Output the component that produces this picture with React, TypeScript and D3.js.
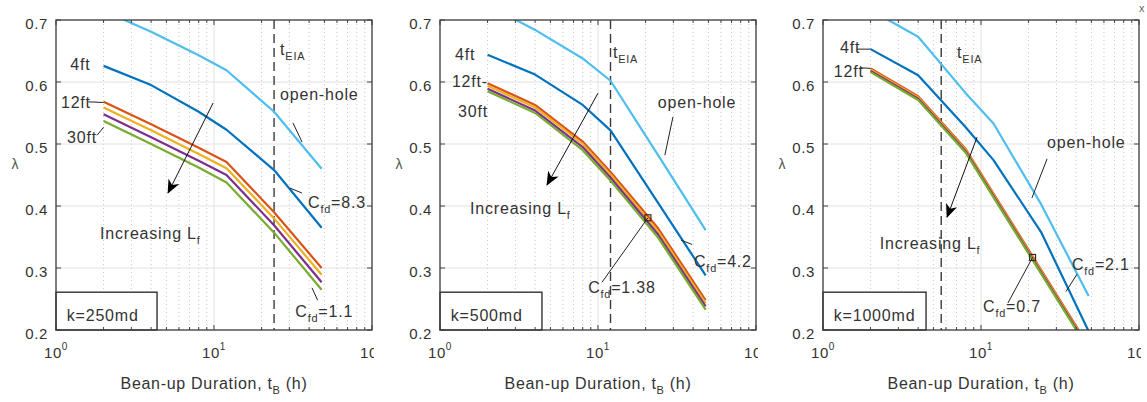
import React from "react";
import * as d3 from "d3";

// Bean-up durations (h) at which lambda was evaluated
const TIMES = [2, 4, 8, 12, 24, 48];

// Series order follows MATLAB's default colour order
const SERIES_NAMES = ["4ft", "12ft", "18ft", "24ft", "30ft", "open-hole"];
const SERIES_COLORS = ["#0072bd", "#d95319", "#edb120", "#7e2f8e", "#77ac30", "#4dbeee"];

// k = 250 md
const K250_4FT = [0.626, 0.595, 0.552, 0.523, 0.458, 0.365];
const K250_12FT = [0.568, 0.532, 0.494, 0.471, 0.39, 0.3];
const K250_18FT = [0.559, 0.522, 0.484, 0.461, 0.38, 0.289];
const K250_24FT = [0.548, 0.511, 0.473, 0.45, 0.369, 0.277];
const K250_30FT = [0.537, 0.5, 0.462, 0.438, 0.357, 0.265];
const K250_OPEN = [0.715, 0.681, 0.643, 0.619, 0.552, 0.46];

// k = 500 md
const K500_4FT = [0.644, 0.612, 0.563, 0.522, 0.405, 0.288];
const K500_12FT = [0.598, 0.563, 0.504, 0.455, 0.364, 0.248];
const K500_18FT = [0.594, 0.559, 0.5, 0.451, 0.359, 0.243];
const K500_24FT = [0.589, 0.554, 0.495, 0.446, 0.354, 0.238];
const K500_30FT = [0.585, 0.55, 0.49, 0.441, 0.349, 0.233];
const K500_OPEN = [0.724, 0.684, 0.638, 0.602, 0.482, 0.361];

// k = 1000 md
const K1000_4FT = [0.653, 0.611, 0.527, 0.474, 0.358, 0.198];
const K1000_12FT = [0.622, 0.577, 0.492, 0.42, 0.297, 0.174];
const K1000_18FT = [0.62, 0.575, 0.49, 0.418, 0.295, 0.172];
const K1000_24FT = [0.618, 0.573, 0.488, 0.416, 0.293, 0.17];
const K1000_30FT = [0.616, 0.571, 0.486, 0.414, 0.291, 0.168];
const K1000_OPEN = [0.716, 0.673, 0.582, 0.533, 0.403, 0.255];

// Times of end of infinite-acting period per permeability
const T_EIA = [24, 12, 5.6];
const K_LABELS = ["k=250md", "k=500md", "k=1000md"];

// Axis ticks
const Y_TICKS = [0.2, 0.3, 0.4, 0.5, 0.6, 0.7];
const X_DECADES = [1, 10, 100];
const X_DECADE_EXP = ["0", "1", "2"];
const X_MINOR = [2, 3, 4, 5, 6, 7, 8, 9, 20, 30, 40, 50, 60, 70, 80, 90];

type Part = [string, "n" | "sub"];
type Label = { t: number; v: number; parts: Part[] };
type Pt = [number, number];

const cfd = (val: string): Part[] => [["C", "n"], ["fd", "sub"], ["=" + val, "n"]];
const tEIA: Part[] = [["t", "n"], ["EIA", "sub"]];
const incLf: Part[] = [["Increasing L", "n"], ["f", "sub"]];

const PANELS = [
  {
    series: [K250_4FT, K250_12FT, K250_18FT, K250_24FT, K250_30FT, K250_OPEN],
    tEIA: T_EIA[0],
    k: K_LABELS[0],
    kBoxT: 4.36,
    labels: [
      { t: 1.23, v: 0.619, parts: [["4ft", "n"]] },
      { t: 1.075, v: 0.558, parts: [["12ft", "n"]] },
      { t: 1.174, v: 0.502, parts: [["30ft", "n"]] },
      { t: 26.2, v: 0.644, parts: tEIA },
      { t: 26.2, v: 0.571, parts: [["open-hole", "n"]] },
      { t: 39.4, v: 0.397, parts: cfd("8.3") },
      { t: 1.9, v: 0.347, parts: incLf },
      { t: 32.7, v: 0.2215, parts: cfd("1.1") },
    ] as Label[],
    leaders: [
      [[1.6, 0.568], [2, 0.567]],
      [[1.818, 0.514], [2, 0.527]],
      [[31.6, 0.534], [36.1, 0.503]],
      [[30.2, 0.429], [36, 0.421]],
      [[41.7, 0.268], [45.3, 0.248]],
    ] as Pt[][],
    arrow: [[9.86, 0.566], [5.12, 0.421]] as Pt[],
    markers: [] as Pt[],
  },
  {
    series: [K500_4FT, K500_12FT, K500_18FT, K500_24FT, K500_30FT, K500_OPEN],
    tEIA: T_EIA[1],
    k: K_LABELS[1],
    kBoxT: 4.42,
    labels: [
      { t: 1.245, v: 0.6355, parts: [["4ft", "n"]] },
      { t: 1.19, v: 0.592, parts: [["12ft-", "n"]] },
      { t: 1.3, v: 0.5435, parts: [["30ft", "n"]] },
      { t: 12.43, v: 0.639, parts: tEIA },
      { t: 23.9, v: 0.558, parts: [["open-hole", "n"]] },
      { t: 1.55, v: 0.387, parts: incLf },
      { t: 8.66, v: 0.26, parts: cfd("1.38") },
      { t: 40.5, v: 0.302, parts: cfd("4.2") },
    ] as Label[],
    leaders: [
      [[29.8, 0.5435], [26.5, 0.482]],
      [[20.7, 0.381], [10.6, 0.277]],
      [[33.5, 0.345], [39.4, 0.338]],
    ] as Pt[][],
    arrow: [[10, 0.582], [4.76, 0.434]] as Pt[],
    markers: [[20.7, 0.381]] as Pt[],
  },
  {
    series: [K1000_4FT, K1000_12FT, K1000_18FT, K1000_24FT, K1000_30FT, K1000_OPEN],
    tEIA: T_EIA[2],
    k: K_LABELS[2],
    kBoxT: 4.49,
    labels: [
      { t: 1.28, v: 0.647, parts: [["4ft", "n"]] },
      { t: 1.17, v: 0.608, parts: [["12ft", "n"]] },
      { t: 7.06, v: 0.639, parts: tEIA },
      { t: 26.2, v: 0.4935, parts: [["open-hole", "n"]] },
      { t: 2.29, v: 0.3306, parts: incLf },
      { t: 37.6, v: 0.297, parts: cfd("2.1") },
      { t: 10.3, v: 0.2295, parts: cfd("0.7") },
    ] as Label[],
    leaders: [
      [[1.64, 0.653], [2, 0.653]],
      [[1.71, 0.623], [2, 0.622]],
      [[26.2, 0.476], [21.0, 0.413]],
      [[40.5, 0.29], [34.5, 0.262]],
      [[21.2, 0.317], [14.8, 0.2435]],
    ] as Pt[][],
    arrow: [[9.44, 0.511], [6.1, 0.382]] as Pt[],
    markers: [[21.2, 0.317]] as Pt[],
  },
];

// Layout
const W = 1147;
const H = 402;
const PANEL_LEFTS = [56, 440, 823];
const PANEL_W = 316;
const TOP = 20;
const BOTTOM = 330;
const FONT = "'Liberation Sans', Arial, Helvetica, sans-serif";
const TEXT = "#333333";
const AXIS = "#404040";

function Rich({ x, y, parts, size = 16 }: { x: number; y: number; parts: Part[]; size?: number }) {
  let prev: "n" | "sub" = "n";
  return (
    <text x={x} y={y} fontSize={size} fill={TEXT} fontFamily={FONT} letterSpacing={0.8}>
      {parts.map(([s, kind], i) => {
        let dy = 0;
        if (kind === "sub" && prev === "n") dy = 5;
        if (kind === "n" && prev === "sub") dy = -5;
        prev = kind;
        return (
          <tspan key={i} dy={dy} fontSize={kind === "sub" ? size * 0.68 : size}>
            {s}
          </tspan>
        );
      })}
    </text>
  );
}

function Panel({ idx }: { idx: number }) {
  const p = PANELS[idx];
  const left = PANEL_LEFTS[idx];
  const right = left + PANEL_W;
  const x = d3.scaleLog().domain([1, 100]).range([left, right]);
  const y = d3.scaleLinear().domain([0.2, 0.7]).range([BOTTOM, TOP]);
  const clipId = `plot-clip-${idx}`;
  const tickClipId = `tick-clip-${idx}`;
  const line = d3
    .line<number>()
    .x((_, i) => x(TIMES[i]))
    .y((d) => y(d));
  const seg = d3
    .line<Pt>()
    .x((d) => x(d[0]))
    .y((d) => y(d[1]));
  const cx = (left + right) / 2;

  return (
    <g>
      <defs>
        <clipPath id={clipId}>
          <rect x={left} y={TOP} width={PANEL_W} height={BOTTOM - TOP} />
        </clipPath>
        <clipPath id={tickClipId}>
          <rect x={left - 40} y={BOTTOM} width={PANEL_W + 42} height={40} />
        </clipPath>
      </defs>
      <rect x={left} y={TOP} width={PANEL_W} height={BOTTOM - TOP} fill="#ffffff" />
      {/* minor grid (dotted) */}
      {X_MINOR.map((t) => (
        <line key={"mg" + t} x1={x(t)} x2={x(t)} y1={TOP} y2={BOTTOM} stroke="#c8c8c8" strokeWidth={1} strokeDasharray="1,3" />
      ))}
      {/* major grid */}
      {X_DECADES.map((t) => (
        <line key={"gx" + t} x1={x(t)} x2={x(t)} y1={TOP} y2={BOTTOM} stroke="#e2e2e2" strokeWidth={1} />
      ))}
      {Y_TICKS.map((v) => (
        <line key={"gy" + v} x1={left} x2={right} y1={y(v)} y2={y(v)} stroke="#e2e2e2" strokeWidth={1} />
      ))}
      {/* t_EIA marker line */}
      <line x1={x(p.tEIA)} x2={x(p.tEIA)} y1={TOP} y2={BOTTOM} stroke="#3a3a3a" strokeWidth={1.4} strokeDasharray="9,5" />
      {/* curves */}
      <g clipPath={`url(#${clipId})`}>
        {p.series.map((vals, i) => (
          <path key={SERIES_NAMES[i]} d={line(vals) || ""} fill="none" stroke={SERIES_COLORS[i]} strokeWidth={2.2} strokeLinejoin="round" />
        ))}
      </g>
      {/* markers */}
      {p.markers.map((m, i) => (
        <rect key={"mk" + i} x={x(m[0]) - 3} y={y(m[1]) - 3} width={6} height={6} fill="none" stroke="#3a2a1a" strokeWidth={1.2} />
      ))}
      {/* leaders */}
      {p.leaders.map((l, i) => (
        <path key={"ld" + i} d={seg(l) || ""} stroke="#222" strokeWidth={1} fill="none" />
      ))}
      {/* trend arrow */}
      <path d={seg(p.arrow) || ""} stroke="#111" strokeWidth={1} fill="none" markerEnd="url(#arrowhead)" />
      {/* labels */}
      {p.labels.map((lb, i) => (
        <Rich key={"lb" + i} x={x(lb.t)} y={y(lb.v)} parts={lb.parts} />
      ))}
      {/* permeability box */}
      <rect x={x(1)} y={y(0.261)} width={x(p.kBoxT) - x(1)} height={y(0.2) - y(0.261)} fill="#ffffff" stroke="#222" strokeWidth={1.3} />
      <Rich x={x(1.17)} y={y(0.2145)} parts={[[p.k, "n"]]} />
      {/* axes box */}
      <rect x={left} y={TOP} width={PANEL_W} height={BOTTOM - TOP} fill="none" stroke={AXIS} strokeWidth={1.3} />
      {/* ticks */}
      {X_MINOR.map((t) => (
        <g key={"mt" + t}>
          <line x1={x(t)} x2={x(t)} y1={BOTTOM} y2={BOTTOM - 3} stroke={AXIS} />
          <line x1={x(t)} x2={x(t)} y1={TOP} y2={TOP + 3} stroke={AXIS} />
        </g>
      ))}
      {X_DECADES.map((t) => (
        <g key={"xt" + t}>
          <line x1={x(t)} x2={x(t)} y1={BOTTOM} y2={BOTTOM - 5} stroke={AXIS} />
          <line x1={x(t)} x2={x(t)} y1={TOP} y2={TOP + 5} stroke={AXIS} />
        </g>
      ))}
      {Y_TICKS.map((v) => (
        <g key={"yt" + v}>
          <line x1={left} x2={left + 5} y1={y(v)} y2={y(v)} stroke={AXIS} />
          <line x1={right} x2={right - 5} y1={y(v)} y2={y(v)} stroke={AXIS} />
          <text x={left - 8} y={y(v) + 8.5} textAnchor="end" fontSize={15} fill={TEXT} fontFamily={FONT} letterSpacing={0.6}>
            {d3.format(".1f")(v)}
          </text>
        </g>
      ))}
      <g clipPath={`url(#${tickClipId})`}>
        {X_DECADES.map((t, i) => (
          <text key={"xl" + t} x={x(t)} y={BOTTOM + 28} textAnchor="middle" fontSize={15} fill={TEXT} fontFamily={FONT} letterSpacing={0.6}>
            <tspan>10</tspan>
            <tspan dy={-8} fontSize={10}>
              {X_DECADE_EXP[i]}
            </tspan>
          </text>
        ))}
      </g>
      {/* axis titles */}
      <text x={cx} y={389} textAnchor="middle" fontSize={16} fill={TEXT} fontFamily={FONT} letterSpacing={0.7}>
        <tspan>Bean-up Duration, t</tspan>
        <tspan dy={5} fontSize={11}>
          B
        </tspan>
        <tspan dy={-5}> (h)</tspan>
      </text>
      <text x={left - 41} y={169} textAnchor="middle" fontSize={14} fill="#555" fontFamily={FONT}>
        λ
      </text>
    </g>
  );
}

export default function App() {
  return (
    <svg width={W} height={H} style={{ position: "absolute", left: 0, top: 0, background: "#ffffff" }}>
      <defs>
        <marker id="arrowhead" viewBox="0 0 14 12" refX={13} refY={6} markerWidth={14} markerHeight={12} markerUnits="userSpaceOnUse" orient="auto">
          <path d="M0,0 L14,6 L0,12 L4,6 Z" fill="#000" />
        </marker>
      </defs>
      <rect x={0} y={0} width={W} height={H} fill="#ffffff" />
      {PANELS.map((_, i) => (
        <Panel key={i} idx={i} />
      ))}
      <text x={1139} y={12} fontSize={11} fill="#666" fontFamily={FONT}>
        x
      </text>
    </svg>
  );
}
